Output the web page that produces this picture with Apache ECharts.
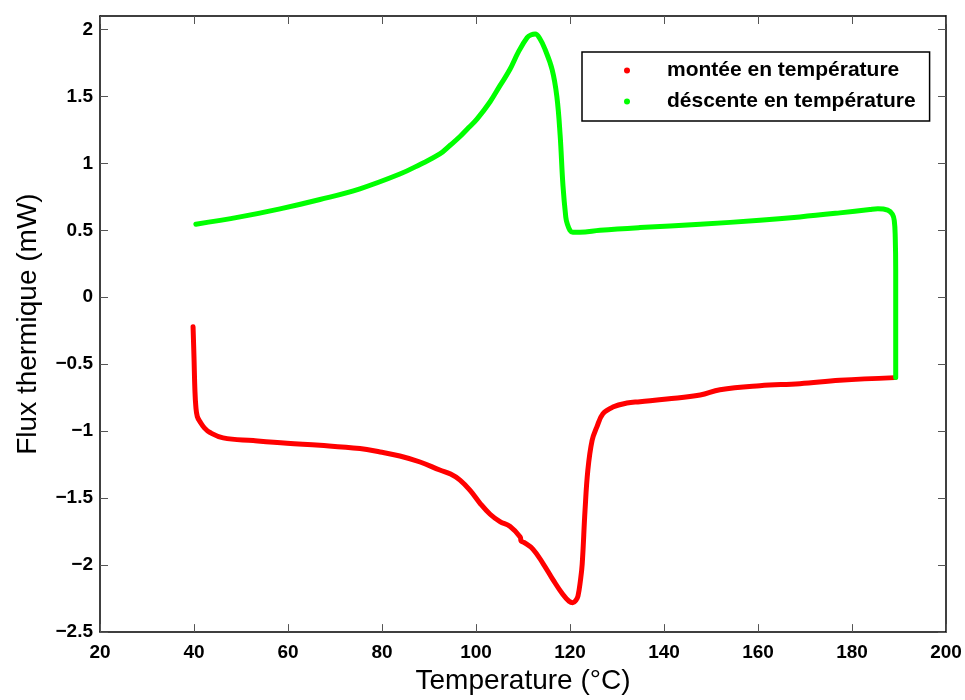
<!DOCTYPE html>
<html>
<head>
<meta charset="utf-8">
<script src="https://cdn.jsdelivr.net/npm/echarts@6/dist/echarts.min.js"></script>
<style>
html,body{margin:0;padding:0;background:#fff;}
#chart{width:965px;height:700px;}
</style>
</head>
<body>
<div id="chart"></div>
<script>
// Data
var monteeT = [39.8, 40.0, 40.2, 40.4, 40.7, 41.3, 42.2, 43.4, 46.2, 52.6, 59.8, 66.8, 75.3, 79.6, 83.8, 88.1, 92.3, 94.6, 96.6, 98.7, 100.9, 103.0, 105.1, 107.2, 109.4, 109.6, 110.2, 112.1, 114.3, 116.4, 118.5, 119.8, 120.6, 121.3, 121.7, 122.2, 122.6, 123.2, 123.8, 124.7, 125.7, 127.0, 129.1, 132.1, 134.9, 140.6, 147.7, 151.9, 160.4, 168.9, 177.4, 189.1];
var monteeFlux = [-0.22, -0.45, -0.70, -0.82, -0.89, -0.93, -0.975, -1.01, -1.05, -1.07, -1.09, -1.105, -1.13, -1.155, -1.185, -1.23, -1.29, -1.32, -1.365, -1.44, -1.54, -1.62, -1.675, -1.71, -1.79, -1.82, -1.83, -1.88, -1.99, -2.11, -2.22, -2.27, -2.28, -2.26, -2.23, -2.12, -1.99, -1.59, -1.29, -1.07, -0.97, -0.87, -0.82, -0.79, -0.78, -0.76, -0.73, -0.69, -0.66, -0.645, -0.62, -0.60];

var descenteT = [189.3, 189.3, 189.3, 189.3, 189.2, 189.0, 188.6, 187.6, 185.5, 183.8, 177.4, 168.9, 160.4, 147.7, 134.9, 126.4, 122.1, 120.6, 120.0, 119.4, 119.1, 118.5, 117.9, 117.2, 116.2, 114.7, 113.6, 112.6, 111.8, 110.9, 109.0, 107.2, 105.1, 103.0, 100.2, 98.4, 96.6, 94.5, 92.3, 88.0, 83.8, 75.3, 66.8, 58.3, 49.8, 40.4];
var descenteFlux = [-0.60, -0.30, 0.00, 0.20, 0.45, 0.57, 0.62, 0.65, 0.66, 0.655, 0.63, 0.60, 0.575, 0.545, 0.52, 0.50, 0.485, 0.485, 0.50, 0.55, 0.60, 0.835, 1.21, 1.50, 1.70, 1.85, 1.93, 1.965, 1.96, 1.94, 1.83, 1.70, 1.58, 1.46, 1.33, 1.265, 1.20, 1.135, 1.07, 0.99, 0.92, 0.81, 0.73, 0.66, 0.60, 0.545];

var xTicks = [20, 40, 60, 80, 100, 120, 140, 160, 180, 200];
var yTicks = [-2.5, -2, -1.5, -1, -0.5, 0, 0.5, 1, 1.5, 2];

var seriesNames = ['montée en température', 'déscente en température'];
var xTitle = 'Temperature (°C)';
var yTitle = 'Flux thermique (mW)';

function pairs(xs, ys) { return xs.map(function (x, i) { return [x, ys[i]]; }); }
function fmt(v) { return String(v).replace('-', '\u2212'); }

var FONT = '"Liberation Sans", Arial, Helvetica, sans-serif';
var tickStyle = { show: true, inside: true, length: 8, lineStyle: { color: '#555', width: 1 } };
var axisLineStyle = { show: true, onZero: false, lineStyle: { color: '#000', width: 1.5 } };

var chart = echarts.init(document.getElementById('chart'), null, { renderer: 'canvas' });
chart.setOption({
  animation: false,
  backgroundColor: '#fff',
  grid: { left: 100, right: 19, top: 16, bottom: 64, containLabel: false },
  legend: {
    orient: 'vertical',
    left: 582, top: 52,
    padding: [8, 14, 9, 42],
    itemGap: 10,
    itemWidth: 6, itemHeight: 6,
    icon: 'circle',
    borderColor: '#000', borderWidth: 1.5, backgroundColor: '#fff',
    textStyle: { fontFamily: FONT, fontSize: 21, fontWeight: 'bold', color: '#000', lineHeight: 20, padding: [0, 0, 0, 32] },
    data: seriesNames
  },
  xAxis: [{
    type: 'value', min: 20, max: 200, position: 'bottom',
    name: xTitle, nameLocation: 'middle', nameGap: 33,
    nameTextStyle: { fontFamily: FONT, fontSize: 28, color: '#000' },
    axisLine: axisLineStyle, axisTick: Object.assign({ customValues: xTicks }, tickStyle),
    axisLabel: { customValues: xTicks, fontFamily: FONT, fontSize: 19, fontWeight: 'bold', color: '#000', margin: 11 },
    splitLine: { show: false }
  }, {
    type: 'value', min: 20, max: 200, position: 'top',
    axisLine: axisLineStyle, axisTick: Object.assign({ customValues: xTicks }, tickStyle),
    axisLabel: { show: false }, splitLine: { show: false }
  }],
  yAxis: [{
    type: 'value', min: -2.5, max: 2.1, position: 'left',
    name: yTitle, nameLocation: 'middle', nameGap: 58, nameRotate: 90,
    nameTextStyle: { fontFamily: FONT, fontSize: 28, color: '#000' },
    axisLine: axisLineStyle, axisTick: Object.assign({ customValues: yTicks }, tickStyle),
    axisLabel: { customValues: yTicks, fontFamily: FONT, fontSize: 19, fontWeight: 'bold', color: '#000', margin: 7, formatter: fmt },
    splitLine: { show: false }
  }, {
    type: 'value', min: -2.5, max: 2.1, position: 'right',
    axisLine: axisLineStyle, axisTick: Object.assign({ customValues: yTicks }, tickStyle),
    axisLabel: { show: false }, splitLine: { show: false }
  }],
  series: [{
    name: seriesNames[0], type: 'line', xAxisIndex: 0, yAxisIndex: 0,
    data: pairs(monteeT, monteeFlux), showSymbol: false, smooth: 0.4,
    itemStyle: { color: '#ff0000' },
    lineStyle: { color: '#ff0000', width: 5, cap: 'round', join: 'round' }
  }, {
    name: seriesNames[1], type: 'line', xAxisIndex: 0, yAxisIndex: 0,
    data: pairs(descenteT, descenteFlux), showSymbol: false, smooth: 0.4,
    itemStyle: { color: '#00ff00' },
    lineStyle: { color: '#00ff00', width: 5, cap: 'round', join: 'round' }
  }]
});
</script>
</body>
</html>
